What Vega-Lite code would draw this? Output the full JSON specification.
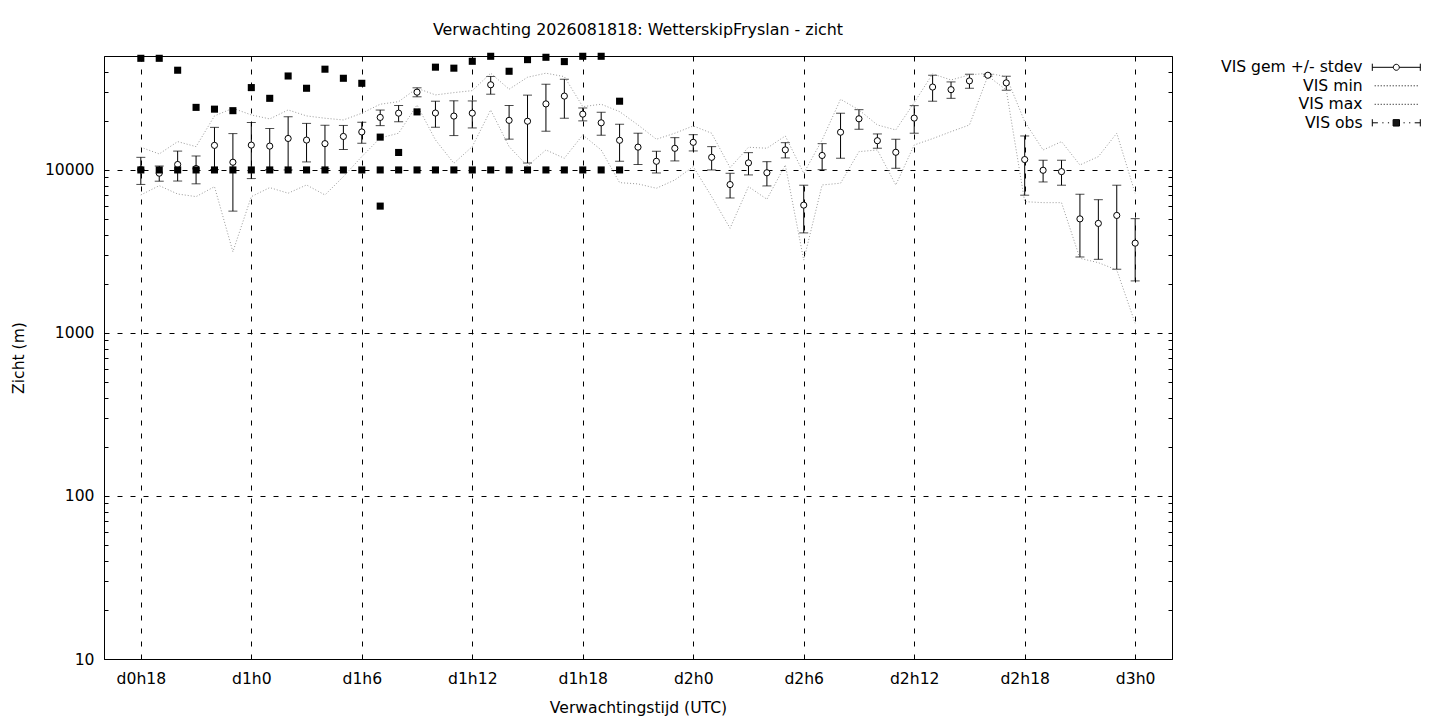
{
  "$schema": "https://vega.github.io/schema/vega-lite/v6.json",
  "autosize": "none",
  "width": 1068,
  "height": 603,
  "padding": {"left": 104, "top": 56, "right": 268, "bottom": 61},
  "background": "white",
  "config": {
    "font": "DejaVu Sans",
    "view": {"stroke": "black", "strokeWidth": 1},
    "axis": {"labelFont": "DejaVu Sans", "titleFont": "DejaVu Sans", "labelColor": "black", "titleColor": "black"},
    "legend": {"labelFont": "DejaVu Sans"}
  },
  "title": {"text": "Verwachting 2026081818: WetterskipFryslan - zicht", "font": "DejaVu Sans", "fontSize": 15.9, "fontWeight": "normal", "color": "black", "anchor": "middle", "offset": 15},
  "datasets": {
    "fc": [
      {"h": 18, "mean": 10050, "sd": 1900, "min": 7025, "max": 13780},
      {"h": 19, "mean": 9550, "sd": 1020, "min": 8010, "max": 12540},
      {"h": 20, "mean": 10800, "sd": 2250, "min": 7120, "max": 14920},
      {"h": 21, "mean": 10200, "sd": 1980, "min": 6860, "max": 13900},
      {"h": 22, "mean": 14150, "sd": 4100, "min": 7900, "max": 21450},
      {"h": 23, "mean": 11150, "sd": 5560, "min": 3150, "max": 23900},
      {"h": 24, "mean": 14200, "sd": 5350, "min": 6860, "max": 21750},
      {"h": 25, "mean": 14000, "sd": 3950, "min": 7790, "max": 20560},
      {"h": 26, "mean": 15600, "sd": 5600, "min": 7200, "max": 23340},
      {"h": 27, "mean": 15250, "sd": 4050, "min": 8090, "max": 21450},
      {"h": 28, "mean": 14500, "sd": 4300, "min": 7025, "max": 20760},
      {"h": 29, "mean": 16050, "sd": 2700, "min": 9100, "max": 20260},
      {"h": 30, "mean": 17100, "sd": 2520, "min": 12070, "max": 22280},
      {"h": 31, "mean": 21000, "sd": 2300, "min": 15710, "max": 25300},
      {"h": 32, "mean": 22300, "sd": 2550, "min": 16800, "max": 26240},
      {"h": 33, "mean": 30000, "sd": 1900, "min": 25050, "max": 31710},
      {"h": 34, "mean": 22340, "sd": 4060, "min": 15280, "max": 28860},
      {"h": 35, "mean": 21400, "sd": 5150, "min": 10990, "max": 29810},
      {"h": 36, "mean": 22300, "sd": 4200, "min": 13900, "max": 30660},
      {"h": 37, "mean": 33300, "sd": 4150, "min": 23340, "max": 39220},
      {"h": 38, "mean": 20150, "sd": 4700, "min": 13900, "max": 31270},
      {"h": 39, "mean": 19900, "sd": 8870, "min": 10580, "max": 37040},
      {"h": 40, "mean": 25420, "sd": 8140, "min": 13260, "max": 39220},
      {"h": 41, "mean": 28380, "sd": 7620, "min": 11800, "max": 37360},
      {"h": 42, "mean": 22000, "sd": 2000, "min": 16390, "max": 24450},
      {"h": 43, "mean": 19460, "sd": 3130, "min": 13260, "max": 25300},
      {"h": 44, "mean": 15200, "sd": 3900, "min": 8360, "max": 22790},
      {"h": 45, "mean": 13800, "sd": 3000, "min": 8210, "max": 18880},
      {"h": 46, "mean": 11300, "sd": 1720, "min": 7720, "max": 15430},
      {"h": 47, "mean": 13570, "sd": 2210, "min": 8680, "max": 16800},
      {"h": 48, "mean": 14770, "sd": 1690, "min": 10480, "max": 18620},
      {"h": 49, "mean": 11950, "sd": 1950, "min": 6860, "max": 16800},
      {"h": 50, "mean": 8135, "sd": 1405, "min": 4390, "max": 10330},
      {"h": 51, "mean": 11045, "sd": 1725, "min": 7900, "max": 13780},
      {"h": 52, "mean": 9610, "sd": 1630, "min": 6610, "max": 13590},
      {"h": 53, "mean": 13275, "sd": 1425, "min": 10730, "max": 16160},
      {"h": 54, "mean": 6085, "sd": 1975, "min": 2800, "max": 9540},
      {"h": 55, "mean": 12270, "sd": 2230, "min": 8090, "max": 15280},
      {"h": 56, "mean": 17040, "sd": 5240, "min": 8290, "max": 27150},
      {"h": 57, "mean": 20600, "sd": 2835, "min": 12950, "max": 23340},
      {"h": 58, "mean": 15110, "sd": 1520, "min": 13260, "max": 18880},
      {"h": 59, "mean": 12835, "sd": 2595, "min": 8090, "max": 17600},
      {"h": 60, "mean": 20800, "sd": 4000, "min": 14230, "max": 25900},
      {"h": 61, "mean": 32250, "sd": 5850, "min": 15560, "max": 38820},
      {"h": 62, "mean": 31085, "sd": 3585, "min": 17180, "max": 35660},
      {"h": 63, "mean": 35175, "sd": 3475, "min": 18880, "max": 38260},
      {"h": 64, "mean": 38100, "sd": 500, "min": 37700, "max": 39220},
      {"h": 65, "mean": 34200, "sd": 3370, "min": 30960, "max": 37360},
      {"h": 66, "mean": 11580, "sd": 4580, "min": 6390, "max": 19780},
      {"h": 67, "mean": 9955, "sd": 1515, "min": 6300, "max": 13260},
      {"h": 68, "mean": 9765, "sd": 1705, "min": 6300, "max": 14920},
      {"h": 69, "mean": 5010, "sd": 2085, "min": 2870, "max": 10730},
      {"h": 70, "mean": 4700, "sd": 1870, "min": 2700, "max": 12070},
      {"h": 71, "mean": 5260, "sd": 2800, "min": 2435, "max": 16800},
      {"h": 72, "mean": 3556, "sd": 1470, "min": 1147, "max": 7195}
    ],
    "obs": [
      {"h": 18, "v": 10000}, {"h": 18, "v": 48400},
      {"h": 19, "v": 10000}, {"h": 19, "v": 48400},
      {"h": 20, "v": 10000}, {"h": 20, "v": 40900},
      {"h": 21, "v": 10000}, {"h": 21, "v": 24200},
      {"h": 22, "v": 10000}, {"h": 22, "v": 23600},
      {"h": 23, "v": 10000}, {"h": 23, "v": 23100},
      {"h": 24, "v": 10000}, {"h": 24, "v": 32000},
      {"h": 25, "v": 10000}, {"h": 25, "v": 27500},
      {"h": 26, "v": 10000}, {"h": 26, "v": 37700},
      {"h": 27, "v": 10000}, {"h": 27, "v": 31700},
      {"h": 28, "v": 10000}, {"h": 28, "v": 41500},
      {"h": 29, "v": 10000}, {"h": 29, "v": 36500},
      {"h": 30, "v": 10000}, {"h": 30, "v": 34000},
      {"h": 31, "v": 10000}, {"h": 31, "v": 15900}, {"h": 31, "v": 6000},
      {"h": 32, "v": 10000}, {"h": 32, "v": 12800},
      {"h": 33, "v": 10000}, {"h": 33, "v": 22700},
      {"h": 34, "v": 10000}, {"h": 34, "v": 42700},
      {"h": 35, "v": 10000}, {"h": 35, "v": 42100},
      {"h": 36, "v": 10000}, {"h": 36, "v": 46400},
      {"h": 37, "v": 10000}, {"h": 37, "v": 49800},
      {"h": 38, "v": 10000}, {"h": 38, "v": 40300},
      {"h": 39, "v": 10000}, {"h": 39, "v": 47500},
      {"h": 40, "v": 10000}, {"h": 40, "v": 49100},
      {"h": 41, "v": 10000}, {"h": 41, "v": 46200},
      {"h": 42, "v": 10000}, {"h": 42, "v": 49800},
      {"h": 43, "v": 10000}, {"h": 43, "v": 49800},
      {"h": 44, "v": 10000}, {"h": 44, "v": 26400}
    ],
    "legend": [
      {"series": "VIS gem +/- stdev"},
      {"series": "VIS min"},
      {"series": "VIS max"},
      {"series": "VIS obs"}
    ]
  },
  "layer": [
    {
      "data": {"name": "fc"},
      "mark": {"type": "errorbar", "color": "black", "ticks": {"size": 9, "thickness": 1, "color": "black"}, "rule": {"strokeWidth": 1, "color": "black"}},
      "encoding": {
        "x": {
          "field": "h", "type": "quantitative",
          "scale": {"domain": [16, 74], "nice": false, "zero": false},
          "axis": {
            "values": [18, 24, 30, 36, 42, 48, 54, 60, 66, 72],
            "labelExpr": "'d' + floor(datum.value / 24) + 'h' + (datum.value % 24)",
            "grid": true, "gridColor": "black", "gridDash": [5, 8], "gridWidth": 1, "gridOpacity": 1,
            "ticks": false, "domain": false,
            "labelFontSize": 15.6, "labelPadding": 12, "labelFlush": false,
            "title": "Verwachtingstijd (UTC)", "titleFontSize": 15.6, "titleFontWeight": "normal", "titlePadding": 14
          }
        },
        "y": {
          "field": "mean", "type": "quantitative",
          "scale": {"type": "log", "domain": [10, 50000], "nice": false},
          "axis": {
            "orient": "left",
            "values": [10, 20, 30, 40, 50, 60, 70, 80, 90, 100, 200, 300, 400, 500, 600, 700, 800, 900, 1000, 2000, 3000, 4000, 5000, 6000, 7000, 8000, 9000, 10000, 20000, 30000, 40000, 50000],
            "labelExpr": "indexof([10, 100, 1000, 10000], datum.value) >= 0 ? format(datum.value, 'd') : ''",
            "grid": true, "gridColor": "black", "gridDash": [5, 8], "gridWidth": 1,
            "gridOpacity": {"condition": {"test": "indexof([10, 100, 1000, 10000], datum.value) >= 0", "value": 1}, "value": 0},
            "ticks": true, "tickSize": -4, "tickColor": "black", "tickWidth": 1,
            "domain": false,
            "labelFontSize": 15.6, "labelPadding": 14, "labelFlush": false,
            "title": "Zicht (m)", "titleFontSize": 15.6, "titleFontWeight": "normal", "titlePadding": 18
          }
        },
        "yError": {"field": "sd"}
      }
    },
    {
      "data": {"name": "fc"},
      "mark": {"type": "line", "color": "#999999", "strokeWidth": 1, "strokeDash": [1, 2]},
      "encoding": {
        "x": {"field": "h", "type": "quantitative"},
        "y": {"field": "min", "type": "quantitative", "axis": null}
      }
    },
    {
      "data": {"name": "fc"},
      "mark": {"type": "line", "color": "#999999", "strokeWidth": 1, "strokeDash": [1, 2]},
      "encoding": {
        "x": {"field": "h", "type": "quantitative"},
        "y": {"field": "max", "type": "quantitative", "axis": null}
      }
    },
    {
      "data": {"name": "fc"},
      "mark": {"type": "point", "shape": "circle", "filled": true, "fill": "white", "stroke": "black", "strokeWidth": 1, "size": 38, "opacity": 1},
      "encoding": {
        "x": {"field": "h", "type": "quantitative"},
        "y": {
          "field": "mean", "type": "quantitative",
          "axis": {
            "orient": "right",
            "values": [10, 20, 30, 40, 50, 60, 70, 80, 90, 100, 200, 300, 400, 500, 600, 700, 800, 900, 1000, 2000, 3000, 4000, 5000, 6000, 7000, 8000, 9000, 10000, 20000, 30000, 40000, 50000],
            "labels": false, "grid": false, "domain": false, "title": null,
            "ticks": true, "tickSize": -4, "tickColor": "black", "tickWidth": 1
          }
        }
      }
    },
    {
      "data": {"name": "obs"},
      "mark": {"type": "square", "filled": true, "color": "black", "size": 50, "opacity": 1},
      "encoding": {
        "x": {"field": "h", "type": "quantitative"},
        "y": {"field": "v", "type": "quantitative", "axis": null}
      }
    },
    {
      "data": {"name": "legend"},
      "mark": {"type": "point", "opacity": 0, "filled": false, "color": "black"},
      "encoding": {
        "shape": {
          "field": "series", "type": "nominal",
          "scale": {
            "domain": ["VIS gem +/- stdev", "VIS min", "VIS max", "VIS obs"],
            "range": [
              "M-6,-0.9V0.9M-6,0H-0.75M0.75,0H6M6,-0.9V0.9M-0.75,0A0.75,0.75,0,1,1,0.75,0A0.75,0.75,0,1,1,-0.75,0Z",
              "M-5.4,0h0.25M-4.65,0h0.25M-3.9,0h0.25M-3.15,0h0.25M-2.4,0h0.25M-1.65,0h0.25M-0.9,0h0.25M-0.15,0h0.25M0.6,0h0.25M1.35,0h0.25M2.1,0h0.25M2.85,0h0.25M3.6,0h0.25M4.35,0h0.25M5.1,0h0.25",
              "M-5.4,0h0.25M-4.65,0h0.25M-3.9,0h0.25M-3.15,0h0.25M-2.4,0h0.25M-1.65,0h0.25M-0.9,0h0.25M-0.15,0h0.25M0.6,0h0.25M1.35,0h0.25M2.1,0h0.25M2.85,0h0.25M3.6,0h0.25M4.35,0h0.25M5.1,0h0.25",
              "M-6,-0.9V0.9M-6,0H-4.6M-3.5,0H-3.2M-2.1,0H-1.8M-0.8,-0.8H0.8V0.8H-0.8ZM-0.8,-0.55H0.8M-0.8,-0.3H0.8M-0.8,-0.05H0.8M-0.8,0.2H0.8M-0.8,0.45H0.8M-0.8,0.7H0.8M1.8,0H2.1M3.2,0H3.5M4.6,0H6M6,-0.9V0.9"
            ]
          },
          "legend": {
            "title": null, "orient": "none", "legendX": 1284.5, "legendY": 3.5,
            "padding": 0, "symbolSize": 64, "symbolStrokeWidth": 1, "symbolStrokeColor": "black", "symbolOpacity": 1,
            "labelAlign": "right", "labelOffset": -41.5, "labelFontSize": 15.6, "labelColor": "black", "labelLimit": 0,
            "rowPadding": 1.5,
            "encode": {
              "symbols": {
                "update": {
                  "opacity": {"value": 1},
                  "fill": {"signal": "datum.value === 'VIS gem +/- stdev' ? 'white' : 'transparent'"},
                  "stroke": {"signal": "(datum.value === 'VIS min' || datum.value === 'VIS max') ? '#999999' : 'black'"}
                }
              }
            }
          }
        }
      }
    }
  ],
  "resolve": {"axis": {"y": "independent"}}
}
